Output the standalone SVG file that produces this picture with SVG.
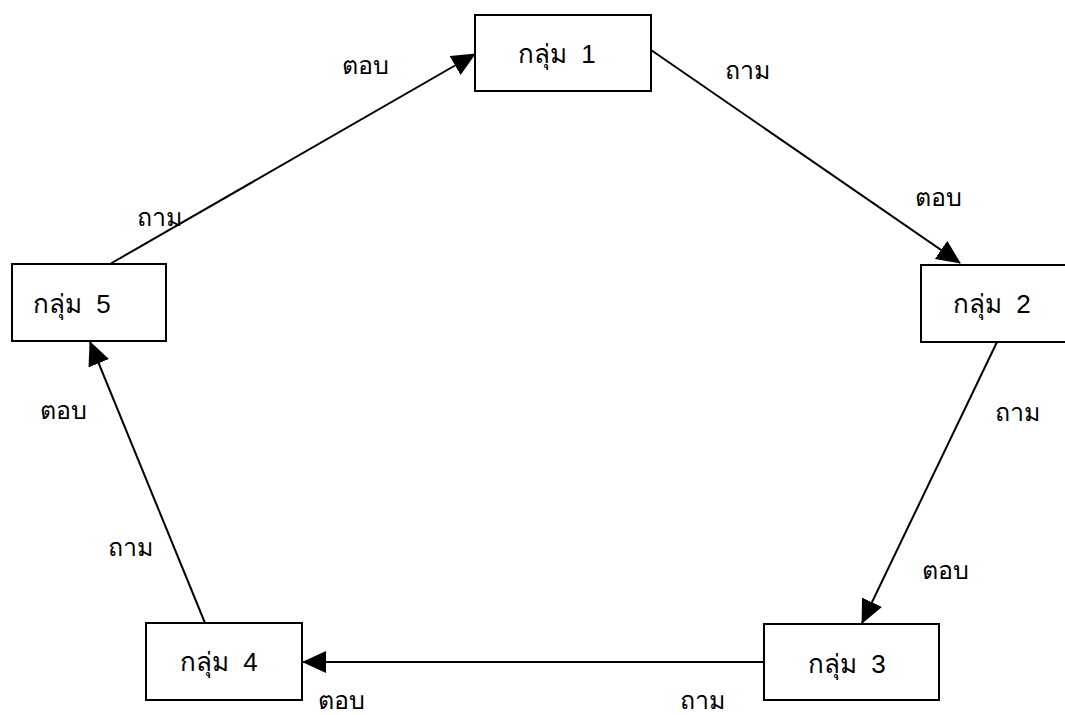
<svg xmlns="http://www.w3.org/2000/svg" width="1065" height="715" viewBox="0 0 1065 715">
  <style>
    .box { fill: #ffffff; stroke: #000000; stroke-width: 2; }
    .name { font-family: "Liberation Sans", "Noto Sans", "DejaVu Sans", sans-serif; font-size: 26px; fill: #000000; word-spacing: 7px; }
    .lbl { font-family: "Liberation Sans", "Noto Sans", "DejaVu Sans", sans-serif; font-size: 25px; fill: #000000; }
    .edge { fill: none; stroke: #000000; stroke-width: 2; marker-end: url(#head); }
  </style>
  <defs>
    <marker id="head" markerUnits="userSpaceOnUse" markerWidth="24" markerHeight="22" viewBox="0 0 24 22" refX="23" refY="11" orient="auto">
      <path d="M0,0 L24,11 L0,22 Z" fill="#000000"/>
    </marker>
  </defs>
  <rect width="1065" height="715" fill="#ffffff"/>

  <!-- connectors between the groups -->
  <g id="connectors">
    <line class="edge" x1="651" y1="50" x2="960" y2="263"/>
    <line class="edge" x1="997" y1="342" x2="862" y2="623"/>
    <line class="edge" x1="764" y1="662" x2="303" y2="662"/>
    <line class="edge" x1="205" y1="623" x2="90" y2="342"/>
    <line class="edge" x1="110" y1="264" x2="475" y2="54"/>
  </g>

  <!-- edge labels -->
  <g id="labels">
    <text class="lbl" x="342" y="74">ตอบ</text>
    <text class="lbl" x="725" y="79">ถาม</text>
    <text class="lbl" x="915" y="206">ตอบ</text>
    <text class="lbl" x="995" y="421">ถาม</text>
    <text class="lbl" x="922" y="579">ตอบ</text>
    <text class="lbl" x="680" y="709">ถาม</text>
    <text class="lbl" x="318" y="709">ตอบ</text>
    <text class="lbl" x="108" y="556">ถาม</text>
    <text class="lbl" x="40" y="419">ตอบ</text>
    <text class="lbl" x="137" y="226">ถาม</text>
  </g>

  <g id="group1">
    <rect class="box" x="475" y="15" width="176" height="76"/>
    <text class="name" x="518" y="63">กลุ่ม 1</text>
  </g>
  <g id="group2">
    <rect class="box" x="921" y="265" width="176" height="77"/>
    <text class="name" x="953" y="313">กลุ่ม 2</text>
  </g>
  <g id="group3">
    <rect class="box" x="764" y="624" width="175" height="76"/>
    <text class="name" x="808" y="673">กลุ่ม 3</text>
  </g>
  <g id="group4">
    <rect class="box" x="146" y="623" width="156" height="77"/>
    <text class="name" x="180" y="671">กลุ่ม 4</text>
  </g>
  <g id="group5">
    <rect class="box" x="12" y="264" width="154" height="77"/>
    <text class="name" x="33" y="313">กลุ่ม 5</text>
  </g>
</svg>
